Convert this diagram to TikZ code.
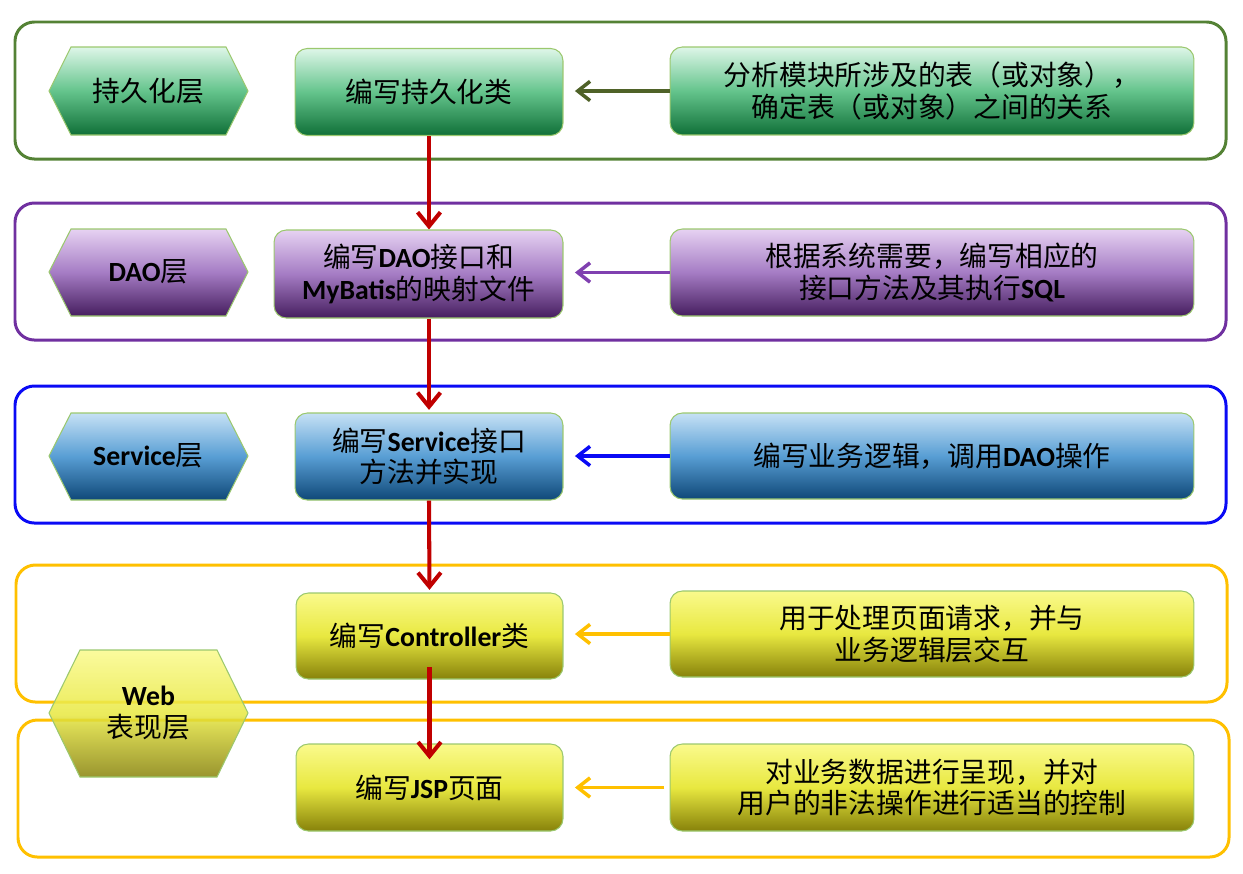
\documentclass[tikz,border=0pt]{standalone}
\usepackage{fontspec}
\setmainfont{Noto Sans CJK SC}
\newfontfamily\calibri{Carlito}
\usetikzlibrary{arrows.meta}
\newcommand{\lat}[1]{{\calibri\bfseries #1}}

% colours
\definecolor{frgreen}{RGB}{84,130,53}
\definecolor{frpurple}{RGB}{112,48,160}
\definecolor{frblue}{RGB}{10,10,245}
\definecolor{fryellow}{RGB}{255,192,0}
\definecolor{arrowred}{RGB}{192,0,0}
\definecolor{arrowgreen}{RGB}{79,98,40}
\definecolor{arrowpurple}{RGB}{128,64,176}
\definecolor{boxline}{RGB}{155,200,110}
\definecolor{gtop}{RGB}{222,246,232}
\definecolor{gmid}{RGB}{100,196,140}
\definecolor{gbot}{RGB}{16,112,56}
\definecolor{ptop}{RGB}{230,210,242}
\definecolor{pmid}{RGB}{165,124,196}
\definecolor{pbot}{RGB}{70,30,95}
\definecolor{btop}{RGB}{198,225,245}
\definecolor{bmid}{RGB}{88,158,212}
\definecolor{bbot}{RGB}{15,72,120}
\definecolor{ytop}{RGB}{250,250,140}
\definecolor{ymid}{RGB}{232,232,64}
\definecolor{ybot}{RGB}{135,130,10}

\tikzset{
  layer/.style={line width=1.7pt, rounded corners=11pt},
  stepbox/.style={draw=boxline, line width=0.6pt, rounded corners=7pt, align=center,
    inner sep=0pt, font=\fontsize{15.8pt}{18pt}\selectfont},
  hexbox/.style={draw=boxline, line width=0.6pt},
  hextext/.style={align=center, font=\fontsize{15.8pt}{18pt}\selectfont},
  greenfill/.style={top color=gtop, bottom color=gbot, middle color=gmid},
  purplefill/.style={top color=ptop, bottom color=pbot, middle color=pmid},
  bluefill/.style={top color=btop, bottom color=bbot, middle color=bmid},
  yellowfill/.style={top color=ytop, bottom color=ybot, middle color=ymid},
  downarrow/.style={draw=arrowred, line width=2.3pt, -{Straight Barb[length=8pt,width=13pt]}},
  sidearrow/.style={line width=2pt, -{Straight Barb[length=7pt,width=11pt]}, shorten >=6.5pt},
}

\begin{document}
\begin{tikzpicture}[x=0.02cm, y=-0.02cm]
\useasboundingbox (0,0) rectangle (1243,873);

% layer frames
\draw[layer, frgreen] (15,22) rectangle (1226,159);
\draw[layer, frpurple] (15,203) rectangle (1226,340);
\draw[layer, frblue] (15,386) rectangle (1226,523);
\draw[layer, fryellow] (16,565) rectangle (1227,702);
\draw[layer, fryellow] (18,720) rectangle (1229,857);

% layer names
\shade[hexbox, greenfill] (49,91) -- (71,47) -- (226,47) -- (248,91) -- (226,135) -- (71,135) -- cycle;
\node[hextext] (ph) at (148.5,91) {持久化层};
\shade[hexbox, purplefill] (49,272) -- (71,229) -- (226,229) -- (248,272) -- (226,316) -- (71,316) -- cycle;
\node[hextext] (dh) at (148.5,272) {\lat{DAO}层};
\shade[hexbox, bluefill] (49,456) -- (71,413) -- (226,413) -- (248,456) -- (226,500) -- (71,500) -- cycle;
\node[hextext] (sh) at (148.5,456) {\lat{Service}层};

% middle column
\node[stepbox, greenfill, minimum width=5.36cm, minimum height=1.74cm] (pc) at (429,92) {编写持久化类};
\node[stepbox, purplefill, minimum width=5.78cm, minimum height=1.76cm] (dc) at (418.5,274) {编写\lat{DAO}接口和\\\lat{MyBatis}的映射文件};
\node[stepbox, bluefill, minimum width=5.36cm, minimum height=1.74cm] (sc) at (429,456.5) {编写\lat{Service}接口\\方法并实现};
\node[stepbox, yellowfill, minimum width=5.34cm, minimum height=1.72cm] (cc) at (429.5,636) {编写\lat{Controller}类};
\node[stepbox, yellowfill, minimum width=5.34cm, minimum height=1.74cm] (jc) at (429.5,787.5) {编写\lat{JSP}页面};

% right column
\node[stepbox, greenfill, minimum width=10.48cm, minimum height=1.76cm] (pa) at (932,91) {分析模块所涉及的表（或对象），\\确定表（或对象）之间的关系};
\node[stepbox, purplefill, minimum width=10.48cm, minimum height=1.74cm] (da) at (932,272.5) {根据系统需要，编写相应的\\接口方法及其执行\lat{SQL}};
\node[stepbox, bluefill, minimum width=10.48cm, minimum height=1.72cm] (sa) at (932,456) {编写业务逻辑，调用\lat{DAO}操作};
\node[stepbox, yellowfill, minimum width=10.48cm, minimum height=1.72cm] (ca) at (932,634) {用于处理页面请求，并与\\业务逻辑层交互};
\node[stepbox, yellowfill, minimum width=10.48cm, minimum height=1.74cm] (ja) at (932,787.5) {对业务数据进行呈现，并对\\用户的非法操作进行适当的控制};

% Web layer name, on top of both yellow frames
\shade[hexbox, yellowfill, fill opacity=0.85] (49,713) -- (80,650) -- (217,650) -- (248,713) -- (217,777) -- (80,777) -- cycle;
\node[hextext] (wh) at (148.5,713) {\lat{Web}\\表现层};

% arrows into the middle column
\draw[sidearrow, arrowgreen] (pa.west) -- (pa.west -| pc.east);
\draw[sidearrow, arrowpurple] (da.west) -- (da.west -| dc.east);
\draw[sidearrow, frblue] (sa.west) -- (sa.west -| sc.east);
\draw[sidearrow, fryellow] (ca.west) -- (ca.west -| cc.east);
\draw[sidearrow, fryellow, shorten <=3pt] (ja.west) -- (ja.west -| jc.east);

% flow down the layers
\draw[downarrow] (pc.south) -- (pc.south |- dc.north);
\draw[downarrow, shorten >=1.5pt] (sc.north |- dc.south) -- (sc.north);
\draw[downarrow, shorten >=1.5pt] (sc.south) -- (cc.north);
\draw[downarrow, shorten <=-7pt, shorten >=-9pt] (cc.south) -- (jc.north);
\end{tikzpicture}
\end{document}
